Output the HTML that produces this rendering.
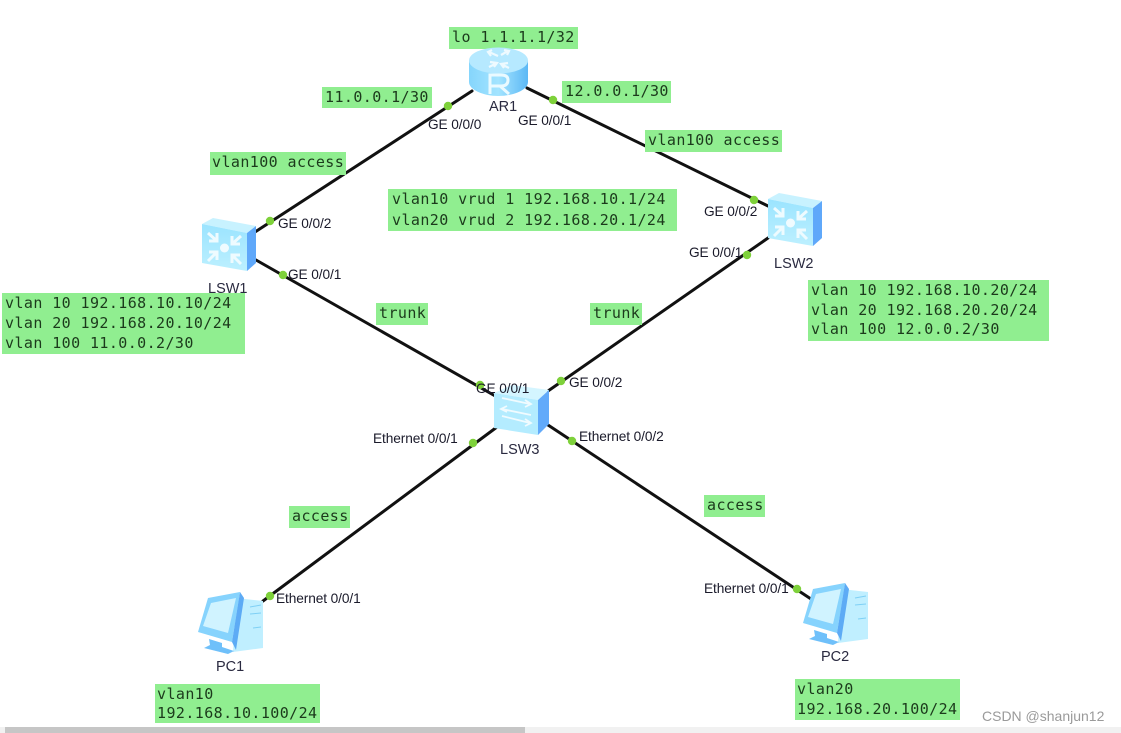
<!DOCTYPE html>
<html><head><meta charset="utf-8"><style>
html,body{margin:0;padding:0;background:#fff;width:1121px;height:733px;overflow:hidden}
svg{display:block;filter:blur(.3px)}
.m{font-family:"DejaVu Sans Mono","Liberation Mono",monospace;font-size:15px;letter-spacing:.41px;fill:#1c3a1c}
.s{font-family:"Liberation Sans",sans-serif;font-size:13.700px;letter-spacing:-.1px;fill:#1a1a2a}
.n{font-family:"Liberation Sans",sans-serif;font-size:14.500px;fill:#2a2a40}
</style></head><body>
<svg width="1121" height="733" viewBox="0 0 1121 733" xmlns="http://www.w3.org/2000/svg">
<defs>
<linearGradient id="fr" x1="0" y1="0" x2="0" y2="1"><stop offset="0" stop-color="#9be4ff"/><stop offset="1" stop-color="#bdf0ff"/></linearGradient>
<linearGradient id="cy" x1="0" y1="0" x2="1" y2="0"><stop offset="0" stop-color="#85d5fc"/><stop offset=".5" stop-color="#a3e4ff"/><stop offset="1" stop-color="#5cb8f5"/></linearGradient>
<g id="l3">
<path d="M0 8 L11 2 L54 10 L45 17Z" fill="#c8f2ff"/>
<path d="M0 8 L45 17 L45 55 L0 47Z" fill="url(#fr)"/>
<path d="M45 17 L54 10 L54 47 L45 55Z" fill="#5fa8fa"/>
<g stroke="#eefbff" stroke-width="3" fill="none">
<path d="M6 17 L15 25 M7 25 L15 25 L15 17"/><path d="M39 20 L30 28 M38 28 L30 28 L30 20"/>
<path d="M6 45 L15 36 M7 36 L15 36 L15 44"/><path d="M39 48 L30 39 M38 39 L30 39 L30 47"/>
</g>
<circle cx="22.500" cy="32" r="4.500" fill="#f0fbff"/>
</g>
<g id="pc">
<path d="M38 6 L65 9 L65 56 L35 60Z" fill="#c0efff"/>
<path d="M52 15 L63 13 M52 22 L63 21 M55 36 L63 35" stroke="#7fd0f5" stroke-width="1"/>
<path d="M10 6 L42 0 L34 50 L0 40Z" fill="#86d3fd"/>
<path d="M13 11 L38 6 L30 41 L5 34Z" fill="#d0f3ff"/>
<path d="M42 0 L46 6 L38 58 L34 50Z" fill="#5dabf5"/>
<path d="M11 47 L24 51 L24 55 L36 59 L30 62 L6 56 L12 53Z" fill="#6fc0fa"/>
</g>
</defs>
<rect width="1121" height="733" fill="#fff"/>

<g stroke="#111" stroke-width="3" stroke-linecap="round">
<line x1="472" y1="91" x2="255" y2="232"/>
<line x1="527" y1="88" x2="768" y2="206"/>
<line x1="256" y1="260" x2="497" y2="397"/>
<line x1="768" y1="238" x2="548" y2="391"/>
<line x1="497" y1="427" x2="263" y2="601"/>
<line x1="548" y1="425" x2="811" y2="599"/>
</g>

<g fill="#90ee90">
<rect x="449" y="27" width="129" height="22"/>
<rect x="322" y="87" width="110" height="21"/>
<rect x="562" y="81" width="109" height="22"/>
<rect x="210" y="152" width="136" height="23"/>
<rect x="645" y="130" width="137" height="22"/>
<rect x="388" y="189" width="289" height="42"/>
<rect x="2" y="293" width="243" height="61"/>
<rect x="808" y="280" width="241" height="61"/>
<rect x="376" y="303" width="52" height="22"/>
<rect x="590" y="303" width="52" height="22"/>
<rect x="289" y="506" width="61" height="22"/>
<rect x="704" y="495" width="61" height="22"/>
<rect x="155" y="684" width="165" height="39"/>
<rect x="795" y="679" width="165" height="41"/>
</g>
<g class="m">
<text x="452" y="42">lo 1.1.1.1/32</text>
<text x="325" y="102">11.0.0.1/30</text>
<text x="565" y="96">12.0.0.1/30</text>
<text x="212" y="167">vlan100 access</text>
<text x="648" y="145">vlan100 access</text>
<text x="392" y="204">vlan10 vrud 1 192.168.10.1/24</text>
<text x="392" y="225">vlan20 vrud 2 192.168.20.1/24</text>
<text x="5" y="308">vlan 10 192.168.10.10/24</text>
<text x="5" y="328">vlan 20 192.168.20.10/24</text>
<text x="5" y="348">vlan 100 11.0.0.2/30</text>
<text x="811" y="295">vlan 10 192.168.10.20/24</text>
<text x="811" y="315">vlan 20 192.168.20.20/24</text>
<text x="811" y="334">vlan 100 12.0.0.2/30</text>
<text x="379" y="318">trunk</text>
<text x="593" y="318">trunk</text>
<text x="292" y="521">access</text>
<text x="707" y="510">access</text>
<text x="157" y="699">vlan10</text>
<text x="157" y="718">192.168.10.100/24</text>
<text x="797" y="694">vlan20</text>
<text x="797" y="714">192.168.20.100/24</text>
</g>

<!-- router -->
<path d="M469 60 V82 C469 90 484 96 498 96 C513 96 528 90 528 82 V60Z" fill="url(#cy)"/>
<ellipse cx="498.500" cy="60.500" rx="29.500" ry="13" fill="#b6e9ff"/>
<g stroke="#eefaff" stroke-width="2.200" fill="none">
<path d="M489 52 L498 56 M492 50 L488 52 L491 56 M508 51 L501 55 M504 50 L509 51 L507 55 M489 67 L497 63 M490 62 L497 63 L494 67 M509 68 L501 64 M508 63 L501 64 L504 68"/>
</g>
<path d="M490 94 V75 H501 Q508 75 508 80 Q508 86 501 86 H490 M500 86 L509 94" stroke="#eafaff" stroke-width="3" fill="none"/>

<use href="#l3" x="202" y="216"/>
<use href="#l3" x="768" y="191"/>

<!-- LSW3 -->
<path d="M494 393 L512 385 L549 390 L538 400Z" fill="#d4f5ff"/>
<path d="M494 393 L538 400 L538 435 L494 428Z" fill="#b4ecff"/>
<path d="M538 400 L549 390 L549 424 L538 435Z" fill="#62aafa"/>
<g stroke="#f0fbff" stroke-width="1.800" fill="none">
<path d="M502 398 L530 404 M525 400 L531 404 L525 407"/>
<path d="M531 415 L502 409 M507 406 L501 409 L507 412"/>
<path d="M502 416 L530 423 M525 419 L531 423 L525 426"/>
</g>

<use href="#pc" x="198" y="592"/>
<use href="#pc" x="803" y="583"/>

<g fill="#7ed13a">
<circle cx="448" cy="106" r="4.200"/><circle cx="553" cy="100" r="4.200"/>
<circle cx="270" cy="221" r="4.200"/><circle cx="283" cy="275" r="4.200"/>
<circle cx="754" cy="200" r="4.200"/><circle cx="747" cy="255" r="4.200"/>
<circle cx="480" cy="385" r="4.200"/><circle cx="561" cy="381" r="4.200"/>
<circle cx="473" cy="443" r="4.200"/><circle cx="572" cy="441" r="4.200"/>
<circle cx="270" cy="596" r="4.200"/><circle cx="797" cy="589" r="4.200"/>
</g>

<g class="s">
<text x="428" y="129">GE 0/0/0</text>
<text x="518" y="125">GE 0/0/1</text>
<text x="278" y="228">GE 0/0/2</text>
<text x="288" y="279">GE 0/0/1</text>
<text x="704" y="216">GE 0/0/2</text>
<text x="689" y="257">GE 0/0/1</text>
<text x="476" y="393">GE 0/0/1</text>
<text x="569" y="387">GE 0/0/2</text>
<text x="373" y="443">Ethernet 0/0/1</text>
<text x="579" y="441">Ethernet 0/0/2</text>
<text x="276" y="603">Ethernet 0/0/1</text>
<text x="704" y="593">Ethernet 0/0/1</text>
</g>
<g class="n">
<text x="489" y="111">AR1</text>
<text x="208" y="293">LSW1</text>
<text x="774" y="268">LSW2</text>
<text x="500" y="454">LSW3</text>
<text x="216" y="671">PC1</text>
<text x="821" y="661">PC2</text>
</g>
<text x="982" y="721" font-family="Liberation Sans,sans-serif" font-size="14" fill="#9a9a9a">CSDN @shanjun12</text>

<rect x="0" y="727" width="1121" height="6" fill="#f1f1f1"/>
<rect x="5" y="727" width="520" height="6" fill="#c6c6c6"/>
</svg>
</body></html>
